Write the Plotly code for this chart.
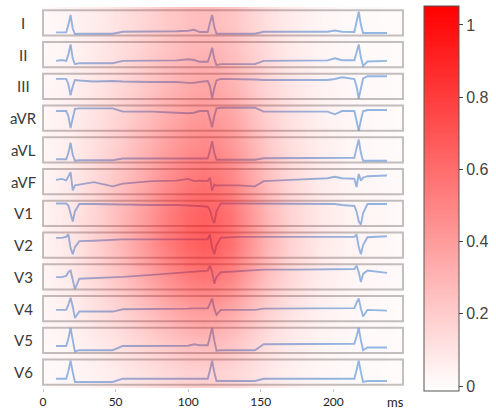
import plotly.graph_objects as go

# ---------------------------------------------------------------------------
# 12-lead ECG strip with a relevance (saliency) map laid over it
# ---------------------------------------------------------------------------
leads = ["I", "II", "III", "aVR", "aVL", "aVF", "V1", "V2", "V3", "V4", "V5", "V6"]

# sample times of the traces (ms)
t_ms = [9, 13, 16, 17.5, 19, 20.5, 22, 25, 35, 48, 55, 75, 92, 100, 104, 108,
        113.5, 115, 116.5, 118, 119.5, 122.5, 135, 146, 152, 175, 196, 201, 206,
        214.5, 216, 217.5, 219, 220.5, 223.5, 237]

# lead amplitudes (arbitrary units, positive = up)
sig_I = [-9.7, -9.7, -9.5, -2, 8, -6, -11.3, -11, -11, -11, -9, -9, -8.5, -8, -7, -9.3,
         -9.3, 0, 8, -4, -11, -11, -11, -11, -9, -9, -9, -7.7, -9,
         -9.3, 0, 11.3, -2, -10.3, -10.3, -10.3]
sig_II = [-6.4, -5.5, -6.4, 0, 10.3, -4, -9.7, -8.7, -8.7, -8.7, -6.4, -6, -5.8, -4.7, -5.5, -7.3,
          -7.3, -1, 7, -4, -10.7, -9.7, -9.7, -9.7, -6.4, -6.2, -5.8, -3.7, -5.7,
          -5.7, 2, 10.3, -3, -11.4, -7, -6.4]
sig_III = [7.6, 8, 7.6, 2, -9, 0, 6.5, 6, 4.9, 5.5, 5, 4.5, 4.5, 3.6, 3.6, 4.5,
           5.5, 0, -12.4, -2, 6, 7.6, 7.6, 7, 6.5, 6.5, 6.5, 7.5, 9.3,
           7.5, 0, -12.4, -3, 8, 10.3, 10.3]
sig_aVR = [7.2, 7.2, 7.2, 2, -10.1, 0, 9.5, 9.9, 9.9, 9.9, 6.6, 6.6, 5.5, 4.9, 5.5, 7.2,
           7.2, 0, -9.4, 2, 10, 10.6, 10.6, 10.6, 6.6, 6.6, 6.6, 3.9, 7.2,
           7.2, -2, -12.8, -2, 7, 8.2, 8.2]
sig_aVL = [-9.5, -9.5, -9.5, -3, 7.2, -5, -11.1, -10.5, -10.5, -10.5, -8.8, -8.8, -8.8, -9.5, -8.8, -8.8,
           -8.8, -1, 8.9, -3, -10.1, -10.1, -10.1, -10.1, -8.5, -8.5, -8.5, -8.5, -8.5,
           -8, 2, 10.5, -3, -11.1, -11.1, -11.1]
sig_aVF = [1.8, 2.8, 1.2, 5, 9.5, -8.8, -3.8, -3, -0.5, -4.8, -2, 0.5, 1, 2.8, 0.5, 1,
           0.5, 4, -9, -3, -4, -3.8, -3.8, -4.8, 0.5, 2, 3.5, 5, 3.5,
           3, -5.5, 7.8, 1, 4, 5.5, 6.2]
sig_V1 = [10.1, 10.1, 10.1, 8, 0, -8.2, 2, 9.5, 9.5, 9, 9, 8.5, 8.5, 8.2, 8, 7.5,
          6.8, 3, -5, -9.9, 2, 10.1, 10.1, 10.1, 10, 10, 10, 9.5, 8.5,
          7.5, 2, -8, -11.5, 0, 9.5, 9.5]
sig_V2 = [7.4, 7.4, 8.5, 10.8, -3, -9.2, -2, 4.1, 4.5, 5.2, 5.8, 5.8, 5.8, 5.8, 5.8, 5.5,
          6, 10.8, -3, -9.2, 0, 7.5, 8.4, 8.4, 8.4, 8.4, 8.4, 8.4, 8.4,
          8.4, 10.8, -2, -9.2, 0, 8, 9.1]
sig_V3 = [-0.3, -0.3, 1, 5, 6.4, -3, -12.6, -1.9, -1.2, -1, 0, 2, 4, 4.8, 5.2, 5.8,
          6.4, 11.4, 5, -6.9, 0, 4.7, 6, 7, 7.4, 7.4, 7.4, 7.4, 7.4,
          8, 11.4, 5, -5.3, 3, 6.4, 4.1]
sig_V4 = [-1.3, -1.3, -1.3, 4, 11, 2, -9.6, -3, -3, -3, -0.6, -0.6, 0, 0, 0.3, 0.3,
          0.3, 5, 10.4, 0, -6.3, -1.3, -1.3, -1.3, 0, 0, 0, 0, 0,
          0.5, 6, 10.4, 0, -8, -1.3, -2]
sig_V5 = [-5.7, -5.7, -5.7, 2, 12.7, 0, -11.3, -10, -10, -10, -5.7, -5.7, -5.7, -5.5, -4, -5,
          -5, 3, 12.7, 0, -10.5, -10, -10, -10, -4, -4, -4, -3.5, -3.5,
          -3.5, 4, 12.7, 0, -10, -7.3, -7.3]
sig_V6 = [-6.7, -6.7, -6.7, 1, 11.6, 0, -10, -10, -10, -10, -6.7, -6.7, -6.7, -6.7, -6.7, -6.7,
          -6.7, 2, 11.6, 0, -9, -9, -9, -9, -6.7, -6.7, -6.7, -6.7, -6.7,
          -6.7, 2, 11.6, 0, -10, -9, -9]

signals = [sig_I, sig_II, sig_III, sig_aVR, sig_aVL, sig_aVF,
           sig_V1, sig_V2, sig_V3, sig_V4, sig_V5, sig_V6]

# relevance map: one row per lead, sampled at heat_t (ms)
heat_t = [0, 20, 40, 55, 70, 85, 100, 110, 120, 130, 140, 155, 170, 190, 210, 248]
heat_I = [0.02, 0.06, 0.12, 0.18, 0.25, 0.32, 0.38, 0.40, 0.39, 0.35, 0.28, 0.18, 0.11, 0.05, 0.02, 0.01]
heat_II = [0.03, 0.06, 0.14, 0.21, 0.29, 0.37, 0.44, 0.46, 0.45, 0.40, 0.32, 0.21, 0.12, 0.06, 0.03, 0.01]
heat_III = [0.03, 0.08, 0.16, 0.24, 0.33, 0.43, 0.51, 0.54, 0.52, 0.47, 0.38, 0.24, 0.15, 0.07, 0.03, 0.01]
heat_aVR = [0.04, 0.09, 0.19, 0.28, 0.39, 0.50, 0.60, 0.63, 0.61, 0.55, 0.44, 0.28, 0.17, 0.08, 0.04, 0.01]
heat_aVL = [0.04, 0.10, 0.22, 0.33, 0.46, 0.59, 0.70, 0.74, 0.72, 0.64, 0.52, 0.33, 0.20, 0.10, 0.04, 0.01]
heat_aVF = [0.05, 0.12, 0.26, 0.39, 0.53, 0.69, 0.82, 0.86, 0.83, 0.75, 0.60, 0.39, 0.23, 0.11, 0.05, 0.02]
heat_V1 = [0.06, 0.14, 0.29, 0.44, 0.60, 0.78, 0.92, 0.97, 0.94, 0.84, 0.68, 0.44, 0.26, 0.13, 0.06, 0.02]
heat_V2 = [0.06, 0.14, 0.30, 0.45, 0.62, 0.80, 0.95, 1.00, 0.97, 0.87, 0.70, 0.45, 0.27, 0.13, 0.06, 0.02]
heat_V3 = [0.05, 0.12, 0.26, 0.38, 0.53, 0.68, 0.81, 0.85, 0.82, 0.74, 0.60, 0.38, 0.23, 0.11, 0.05, 0.02]
heat_V4 = [0.04, 0.09, 0.19, 0.28, 0.38, 0.50, 0.59, 0.62, 0.60, 0.54, 0.43, 0.28, 0.17, 0.08, 0.04, 0.01]
heat_V5 = [0.03, 0.06, 0.13, 0.19, 0.27, 0.34, 0.41, 0.43, 0.42, 0.37, 0.30, 0.19, 0.12, 0.06, 0.03, 0.01]
heat_V6 = [0.02, 0.04, 0.08, 0.13, 0.17, 0.22, 0.27, 0.28, 0.27, 0.24, 0.20, 0.13, 0.08, 0.04, 0.02, 0.01]

heat_rows = [heat_I, heat_II, heat_III, heat_aVR, heat_aVL, heat_aVF,
             heat_V1, heat_V2, heat_V3, heat_V4, heat_V5, heat_V6]

x_ticks = [0, 50, 100, 150, 200]
cbar_ticks = [0, 0.2, 0.4, 0.6, 0.8, 1]
cbar_labels = ["0", "0.2", "0.4", "0.6", "0.8", "1"]

# ---------------------------------------------------------------------------
T_MAX = 248           # right end of the time axis (ms)
AMP_SCALE = 1 / 32.3  # amplitude units -> row heights
BOX_HALF = 0.4        # half height of each lead frame (rows)
Z_MIN, Z_MAX = -0.014, 1.052
n = len(leads)

fig = go.Figure()

# ECG traces, one row per lead (row 0 at the top)
for i, sig in enumerate(signals):
    fig.add_trace(go.Scatter(
        x=t_ms, y=[i - v * AMP_SCALE for v in sig],
        mode="lines", line=dict(color="rgba(78,146,218,0.62)", width=1.9),
        hoverinfo="skip", showlegend=False,
    ))

# relevance map on an overlaid subplot, red whose alpha grows with the score,
# so it tints the traces underneath without washing them out where it is ~0
fig.add_trace(go.Heatmap(
    x=heat_t, y=list(range(n)), z=heat_rows,
    xaxis="x2", yaxis="y2", zsmooth="best",
    colorscale=[[0, "rgba(255,0,0,0)"], [1, "rgba(255,0,0,0.67)"]],
    zmin=Z_MIN, zmax=Z_MAX, showscale=False, hoverinfo="skip",
))

# colour key for the map (opaque white -> red scale)
fig.add_trace(go.Heatmap(
    x=heat_t, y=list(range(n)), z=heat_rows,
    xaxis="x2", yaxis="y2", opacity=0,
    colorscale=[[0, "#ffffff"], [1, "#ff0000"]],
    zmin=Z_MIN, zmax=Z_MAX, hoverinfo="skip",
    colorbar=dict(
        x=1.057, xanchor="left", xpad=0,
        y=0.497, yanchor="middle", ypad=0,
        len=385, lenmode="pixels", thickness=35,
        outlinewidth=1, outlinecolor="#555555",
        ticks="outside", ticklen=4, tickcolor="#444444",
        tickvals=cbar_ticks, ticktext=cbar_labels,
        tickfont=dict(family="Liberation Sans", size=16, color="#444444"),
    ),
))

# gray frame around every lead
for i in range(n):
    fig.add_shape(type="rect", xref="paper", yref="y",
                  x0=0, x1=1, y0=i - BOX_HALF, y1=i + BOX_HALF,
                  line=dict(color="#c2c2c2", width=2), layer="below")

# lead names on the left
for i, name in enumerate(leads):
    fig.add_annotation(text=name, xref="paper", yref="y", x=-0.0552, y=i,
                       xanchor="center", yanchor="middle", showarrow=False,
                       font=dict(family="Lato", size=15, color="#3a3a3a", weight=400))

fig.add_annotation(text="ms", xref="paper", yref="paper", x=0.978, y=0,
                   xanchor="center", yanchor="top", yshift=-4, showarrow=False,
                   font=dict(family="Lato", size=13, color="#222222"))

axis_common = dict(showgrid=False, zeroline=False)
fig.update_layout(
    width=496, height=416,
    margin=dict(l=43, r=91, t=7, b=22),
    plot_bgcolor="white", paper_bgcolor="white",
    showlegend=False,
    xaxis=dict(range=[0, T_MAX], tickvals=x_ticks, ticks="outside", ticklen=3,
               tickcolor="#c8c8c8", showline=False,
               tickfont=dict(family="Lato", size=12, color="#222222"), **axis_common),
    yaxis=dict(range=[n - 0.5, -0.5], showticklabels=False, **axis_common),
    xaxis2=dict(overlaying="x", range=[0, T_MAX], visible=False, **axis_common),
    yaxis2=dict(overlaying="y", range=[n - 0.5, -0.5], visible=False, **axis_common),
)

fig.write_html("out.html")
